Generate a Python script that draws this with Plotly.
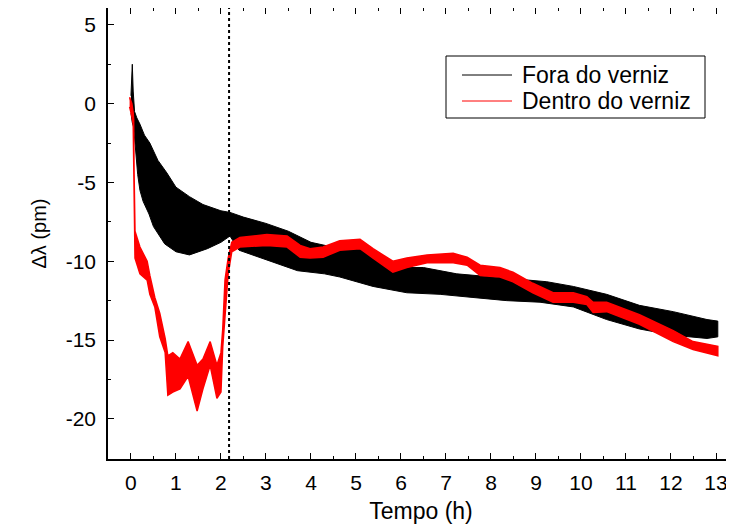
import plotly.graph_objects as go

# ---- Data (time in hours, delta-lambda in pm) ----
# "Fora do verniz" (black) – noisy band: upper and lower envelopes
fora_t_up = [0, 0.03, 0.05, 0.08, 0.13, 0.2, 0.3, 0.42, 0.6, 0.8, 1.0, 1.3, 1.6, 2.0, 2.2,
             2.5, 3.0, 3.5, 4.0, 4.3, 4.64, 5.09, 5.4, 5.76, 6.5, 7.24, 7.98, 8.71, 9.24,
             9.83, 10.57, 11.3, 12.05, 12.8, 13.04]
fora_up = [0.5, 2.5, 0.8, -0.5, -0.9, -1.3, -2.0, -2.5, -3.6, -4.4, -5.3, -5.9, -6.4, -6.8, -6.9,
           -7.2, -7.6, -8.1, -8.8, -9.0, -9.2, -9.2, -9.8, -10.4, -10.4, -10.8, -11.0, -11.2, -11.3,
           -11.6, -12.1, -12.8, -13.2, -13.7, -13.8]
fora_t_lo = [0, 0.03, 0.06, 0.1, 0.15, 0.2, 0.27, 0.4, 0.5, 0.75, 1.0, 1.3, 1.7, 2.0, 2.2,
             2.4, 3.0, 3.7, 4.3, 4.64, 5.38, 6.13, 6.87, 7.6, 8.35, 9.09, 9.83, 10.57, 11.3,
             12.05, 12.8, 13.04]
fora_lo = [-0.6, -1.2, -1.5, -3.0, -4.5, -5.5, -6.2, -7.0, -7.8, -8.9, -9.4, -9.6, -9.2, -8.8, -8.4,
           -9.3, -9.9, -10.6, -10.8, -11.0, -11.6, -12.0, -12.1, -12.3, -12.5, -12.6, -12.9, -13.7, -14.3,
           -14.7, -14.9, -14.8]

# "Dentro do verniz" (red) – band: upper and lower envelopes
dentro_t = [-0.03, 0.02, 0.05, 0.06, 0.07, 0.09, 0.2, 0.36, 0.42, 0.53, 0.64, 0.76, 0.82, 0.93,
            1.09, 1.27, 1.47, 1.6, 1.76, 1.91, 2.0, 2.04, 2.09, 2.16, 2.24, 2.42, 3.02, 3.47,
            3.76, 3.98, 4.27, 4.64, 5.09, 5.38, 5.82, 6.13, 6.58, 7.16, 7.47, 7.76, 8.2, 8.49,
            8.93, 9.38, 9.83, 10.13, 10.27, 10.57, 11.3, 12.05, 12.49, 13.04]
dentro_up = [0.4, 0.0, -0.6, -1.0, -4.5, -8.1, -9.1, -10.0, -10.9, -12.3, -13.3, -14.9, -16.0, -15.8,
             -16.2, -15.1, -16.6, -16.2, -15.1, -16.6, -15.8, -14.3, -11.2, -9.8, -8.8, -8.5, -8.3, -8.4,
             -9.0, -9.2, -9.1, -8.7, -8.6, -9.2, -10.0, -9.8, -9.6, -9.5, -9.75, -10.25, -10.4, -10.7,
             -11.4, -12.0, -12.0, -12.25, -12.6, -12.6, -13.4, -14.4, -15.1, -15.4]
dentro_lo = [-0.2, -0.8, -1.3, -1.6, -5.5, -9.8, -10.8, -11.2, -12.1, -12.9, -14.8, -15.8, -18.5, -18.3,
             -18.1, -17.3, -19.5, -18.1, -16.6, -18.7, -18.3, -15.4, -13.3, -10.8, -9.4, -9.1, -9.0, -9.1,
             -9.75, -9.8, -9.75, -9.3, -9.2, -9.8, -10.7, -10.4, -10.1, -10.1, -10.25, -10.9, -11.0, -11.3,
             -12.0, -12.6, -12.6, -12.75, -13.25, -13.2, -14.0, -15.1, -15.6, -16.0]

series_names = ["Fora do verniz", "Dentro do verniz"]
series_colors = ["black", "#ff0000"]
marker_time = 2.18  # dotted vertical line (h)

x_ticks = list(range(0, 14))
y_ticks = [-20, -15, -10, -5, 0, 5]

FONT = "Liberation Sans, Arial, sans-serif"

fig = go.Figure()

# black band
fig.add_trace(go.Scatter(
    x=fora_t_up + fora_t_lo[::-1], y=fora_up + fora_lo[::-1], name=series_names[0],
    mode="lines", fill="toself", fillcolor=series_colors[0],
    line=dict(color=series_colors[0], width=1), showlegend=False, hoverinfo="skip"))

# red band
fig.add_trace(go.Scatter(
    x=dentro_t + dentro_t[::-1], y=dentro_up + dentro_lo[::-1], name=series_names[1],
    mode="lines", fill="toself", fillcolor=series_colors[1],
    line=dict(color=series_colors[1], width=1.5), showlegend=False, hoverinfo="skip"))

fig.add_shape(type="line", xref="x", yref="paper", x0=marker_time, x1=marker_time,
              y0=0, y1=1, line=dict(color="black", width=2, dash="dot"), layer="above")

# ---- manual legend (paper coordinates) ----
PW, PH = 626.0, 451.0      # plot area size in px
def px2paper(px, py):
    return (px - 108) / PW, (459 - py) / PH

bx0, by0 = px2paper(446, 56)
bx1, by1 = px2paper(705, 118)
fig.add_shape(type="rect", xref="paper", yref="paper", x0=bx0, x1=bx1, y0=by1, y1=by0,
              line=dict(color="black", width=1), fillcolor="white", layer="above")
for i, (name, col) in enumerate(zip(series_names, series_colors)):
    row_py = 75 + 26 * i
    lx0, ly = px2paper(462, row_py)
    lx1, _ = px2paper(512, row_py)
    fig.add_shape(type="line", xref="paper", yref="paper", x0=lx0, x1=lx1, y0=ly, y1=ly,
                  line=dict(color=col, width=1), layer="above")
    tx, _ = px2paper(520, row_py)
    fig.add_annotation(xref="paper", yref="paper", x=tx, y=ly, text=name, showarrow=False,
                       xanchor="left", yanchor="middle",
                       font=dict(family=FONT, size=23, color="black"))

axis_common = dict(
    showgrid=False, zeroline=False, showline=True, linecolor="black", linewidth=1.5,
    ticks="inside", ticklen=6, tickwidth=1.2, tickcolor="black", automargin=False,
    tickfont=dict(family=FONT, size=21, color="black"),
)

fig.update_xaxes(range=[-0.51, 13.4], tickvals=x_ticks, ticktext=[str(v) for v in x_ticks],
                 mirror="ticks", ticklabelstandoff=4,
                 minor=dict(dtick=0.5, ticks="inside", ticklen=3, tickcolor="black", tickwidth=1.2),
                 title=dict(text="Tempo (h)", font=dict(family=FONT, size=23, color="black"), standoff=10),
                 **axis_common)
fig.update_yaxes(range=[-22.55, 6.07], tickvals=y_ticks, ticktext=[str(v) for v in y_ticks],
                 mirror=False, ticklabelstandoff=6,
                 minor=dict(dtick=2.5, ticks="inside", ticklen=3, tickcolor="black", tickwidth=1.2),
                 title=dict(text="Δλ (pm)", font=dict(family=FONT, size=20, color="black"), standoff=14),
                 **axis_common)

# the page body adds an 8px margin, so the figure is 8px smaller and shifted
fig.update_layout(
    width=726, height=523,
    margin=dict(l=100, r=0, t=0, b=72, autoexpand=False),
    plot_bgcolor="white", paper_bgcolor="white",
    showlegend=False,
)

fig.write_html("out.html")
